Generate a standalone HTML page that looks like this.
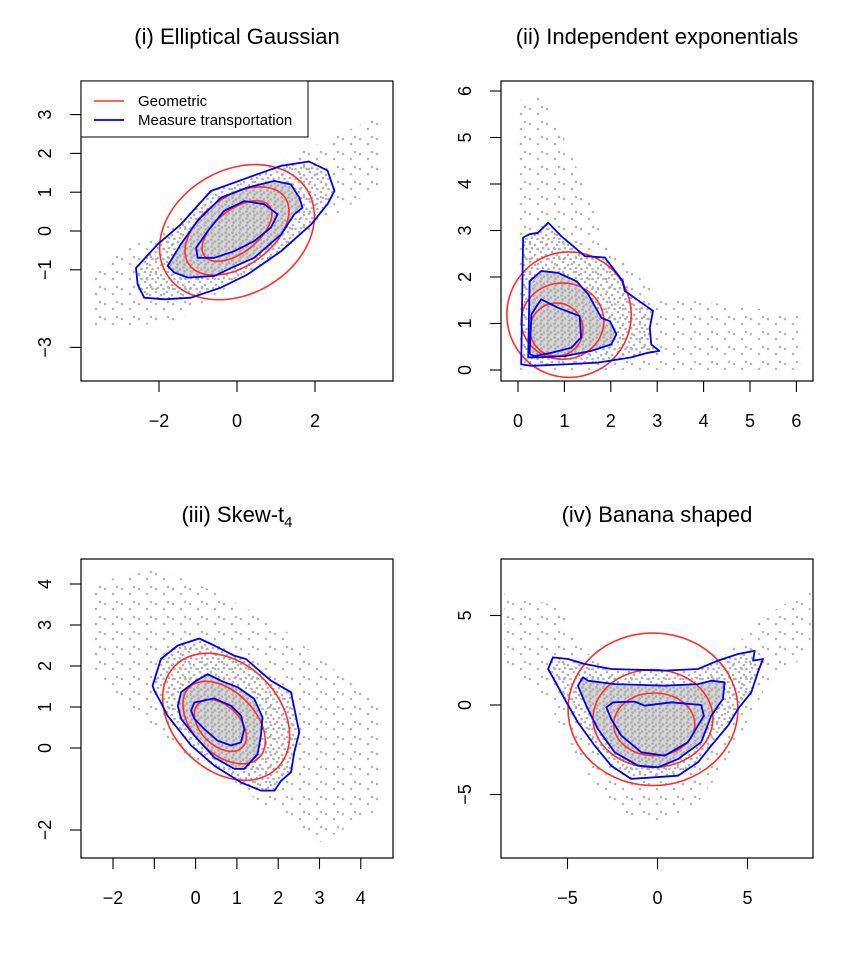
<!DOCTYPE html>
<html><head><meta charset="utf-8"><style>
body{margin:0;background:#fff}
svg{display:block;font-family:"Liberation Sans",sans-serif}
</style></head><body>
<svg id="chart" width="864" height="966" viewBox="0 0 864 966">
<defs>
<pattern id="sparse" width="17" height="15" patternUnits="userSpaceOnUse"><circle cx="3" cy="4" r="1.3" fill="#b5b5b5"/><circle cx="11" cy="9" r="1.3" fill="#b5b5b5"/><circle cx="15" cy="2" r="1.3" fill="#b5b5b5"/></pattern>
<pattern id="medium" width="11" height="10" patternUnits="userSpaceOnUse"><circle cx="2" cy="2" r="1.3" fill="#b0b0b0"/><circle cx="7" cy="5" r="1.3" fill="#b0b0b0"/><circle cx="4" cy="8" r="1.3" fill="#b0b0b0"/><circle cx="9.5" cy="9" r="1.3" fill="#b0b0b0"/></pattern>
<pattern id="dense" width="7" height="7" patternUnits="userSpaceOnUse"><rect width="7" height="7" fill="#d6d6d6"/><circle cx="1.5" cy="1.5" r="1.3" fill="#aaa"/><circle cx="5" cy="3.5" r="1.3" fill="#aaa"/><circle cx="2.5" cy="5.5" r="1.3" fill="#aaa"/></pattern>
</defs>
</svg>
<script>
// ---- data (data units) ----
// panel i
const p1Cloud = [[-3.7,-2.6],[-1.5,-2.3],[1,-0.6],[3.7,1.2],[3.7,3],[2,2.2],[0,1.3],[-2,0],[-3.7,-1]];
const p1Red = [[0,-0.03,2.1,1.6,30],[0,0,1.5,0.9,35],[0,0,1.05,0.55,38]];
const p1BlueOuter = [[-2.59,-0.95],[-2.03,-0.34],[-1.44,0.17],[-0.67,1.03],[0.27,1.37],[1.13,1.68],[1.85,1.79],[2.32,1.56],[2.5,1.03],[2.32,0.69],[1.9,0.17],[1.13,-0.52],[0.27,-1.12],[-0.41,-1.46],[-1.18,-1.72],[-1.86,-1.76],[-2.38,-1.72],[-2.55,-1.37]];
const p1BlueMid = [[-1.78,-0.9],[-1.44,-0.34],[-1.01,0.26],[-0.41,0.86],[0.27,1.12],[0.96,1.29],[1.38,1.2],[1.6,0.86],[1.68,0.6],[1.47,0.43],[1.13,-0.09],[0.44,-0.69],[-0.15,-0.95],[-0.58,-1.16],[-1.26,-1.2],[-1.61,-1.07]];
const p1BlueIn = [[-1.01,-0.69],[-1.05,-0.43],[-0.75,0],[-0.33,0.52],[0.19,0.77],[0.7,0.69],[1.04,0.43],[0.87,0.09],[0.44,-0.26],[-0.07,-0.52],[-0.58,-0.69]];
// panel ii
const p2Cloud = [[0,0],[0,5.8],[0.6,5.9],[1.2,4.5],[2,2.6],[3,1.6],[6.1,1.2],[6.1,0],[3.2,0]];
const p2Red = [[1.1,1.19,1.34,1.35,0],[0.96,1.05,0.89,0.82,0],[0.83,0.87,0.57,0.57,0]];
const p2BlueOuter = [[0.07,0.12],[0.11,2.85],[0.25,2.92],[0.43,2.95],[0.65,3.17],[0.93,2.88],[1.44,2.45],[1.87,2.42],[2.26,1.91],[2.3,1.7],[2.91,1.27],[2.84,0.91],[2.87,0.55],[3.05,0.41],[2.8,0.37],[2.44,0.27],[1.72,0.16],[1.01,0.12],[0.29,0.09]];
const p2BlueMid = [[0.22,0.27],[0.25,1.91],[0.5,2.13],[0.86,2.09],[1.26,1.91],[1.51,1.63],[1.8,1.12],[1.98,1.05],[2.12,0.77],[2.01,0.55],[1.58,0.41],[1.01,0.3],[0.43,0.27]];
const p2BlueIn = [[0.25,0.34],[0.29,1.2],[0.5,1.52],[0.86,1.34],[1.33,1.16],[1.36,0.7],[1.15,0.48],[0.72,0.37],[0.36,0.3]];
// panel iii
const p3Cloud = [[-2.5,4],[-1,4.4],[0.5,3.8],[2,3],[4.5,1],[4.5,-1.5],[3,-2.3],[2,-1.6],[0.5,-0.6],[-1,0.3],[-2.5,2]];
const p3Red = [[0.74,0.76,1.75,1.3,-45],[0.69,0.62,1.2,0.75,-45],[0.6,0.55,0.75,0.48,-45]];
const p3BlueOuter = [[-1.04,1.52],[-0.84,2.17],[-0.43,2.5],[0.09,2.67],[0.45,2.5],[0.94,2.25],[1.22,2.17],[1.58,1.85],[1.83,1.64],[2.31,1.36],[2.51,0.38],[2.39,-0.1],[2.31,-0.59],[2.07,-0.8],[1.91,-1.04],[1.58,-1.04],[1.1,-0.84],[0.45,-0.43],[-0.11,0.06],[-0.68,0.79],[-0.84,1.11],[-1,1.4]];
const p3BlueMid = [[-0.43,1.03],[-0.35,1.36],[0.01,1.64],[0.29,1.8],[0.62,1.64],[1.02,1.48],[1.42,1.2],[1.62,0.75],[1.58,0.3],[1.5,-0.15],[1.18,-0.51],[0.94,-0.51],[0.45,-0.23],[-0.03,0.3],[-0.35,0.71]];
const p3BlueIn = [[-0.11,0.91],[-0.03,1.11],[0.45,1.21],[0.86,1.03],[1.1,0.79],[1.18,0.46],[1.1,0.14],[0.86,0.06],[0.53,0.18],[0.21,0.46],[-0.03,0.71]];
// panel iv
const p4Cloud = [[-8.5,6.3],[-5.5,5.5],[-4,3],[-2,1.5],[2,1.5],[4,3],[6,5],[8.5,6.5],[8.5,3],[6,1],[4,-3],[2,-5.8],[0,-6.5],[-2,-6],[-4,-3.8],[-6,0],[-8.5,2.5]];
const p4Red = [[-0.25,-0.24,4.72,4.26,0],[-0.25,-0.75,3.33,2.73,0],[-0.18,-1.08,2.25,1.75,0]];
const p4BlueOuter = [[-6.08,2.01],[-5.81,2.66],[-4.97,2.57],[-4.04,2.29],[-2.57,2.01],[0.4,1.92],[2.25,2.01],[3.36,2.48],[4.47,2.85],[5.4,3.03],[5.31,2.48],[5.86,2.57],[5.58,1.83],[5.21,0.71],[4.47,-0.22],[3.92,-1.15],[2.99,-2.27],[2.25,-3.2],[1.14,-3.95],[-0.16,-4.04],[-1.46,-4.13],[-2.57,-3.39],[-3.49,-2.27],[-4.42,-0.97],[-5.16,0.34],[-5.71,1.36]];
const p4BlueMid = [[-4.42,1.08],[-4.14,1.55],[-3.86,1.36],[-2.38,1.17],[0.4,1.08],[2.25,1.17],[2.99,1.36],[3.73,1.27],[3.64,0.34],[2.99,-0.6],[2.43,-2.08],[1.14,-3.02],[0.03,-3.48],[-1.08,-3.39],[-2.38,-2.64],[-3.31,-1.34],[-3.96,-0.04]];
const p4BlueIn = [[-2.84,-0.13],[-2.47,0.15],[-1.27,0.19],[-0.71,-0.04],[0.77,0.15],[2.43,0],[2.58,-0.6],[2.25,-1.15],[1.69,-2.08],[0.4,-2.83],[-0.9,-2.64],[-2.01,-1.71],[-2.57,-0.78]];
// tick labels
const p1XTicks = [-2,0,2];  const p1YTicks = [3,2,1,0,-1,-3];
const p2XTicks = [0,1,2,3,4,5,6]; const p2YTicks = [0,1,2,3,4,5,6];
const p3XTicks = [-2,-1,0,1,2,3,4]; const p3XLabels = ["−2","","0","1","2","3","4"]; const p3YTicks = [4,3,2,1,0,-2];
const p4XTicks = [-5,0,5]; const p4YTicks = [5,0,-5];

const NS="http://www.w3.org/2000/svg";
const svg=document.getElementById('chart');
function mk(tag,attrs,parent){const e=document.createElementNS(NS,tag);for(const k in attrs)e.setAttribute(k,attrs[k]);(parent||svg).appendChild(e);return e;}
const fmt=v=>v<0?"−"+(-v):String(v);

const panels=[
 {id:'i',title:'(i) Elliptical Gaussian',box:[81,81,393,381],x0:237,xs:39,y0:231,ys:38.8,cloud:p1Cloud,red:p1Red,bo:p1BlueOuter,bm:p1BlueMid,bi:p1BlueIn,xt:p1XTicks,yt:p1YTicks},
 {id:'ii',title:'(ii) Independent exponentials',box:[501,81,813,381],x0:518,xs:46.4,y0:370,ys:46.5,cloud:p2Cloud,red:p2Red,bo:p2BlueOuter,bm:p2BlueMid,bi:p2BlueIn,xt:p2XTicks,yt:p2YTicks},
 {id:'iii',title:'(iii) Skew-t',box:[81,559,393,858],x0:195.6,xs:41.3,y0:748,ys:41,cloud:p3Cloud,red:p3Red,bo:p3BlueOuter,bm:p3BlueMid,bi:p3BlueIn,xt:p3XTicks,xl:p3XLabels,yt:p3YTicks},
 {id:'iv',title:'(iv) Banana shaped',box:[501,559,813,858],x0:657.5,xs:18,y0:705,ys:17.9,cloud:p4Cloud,red:p4Red,bo:p4BlueOuter,bm:p4BlueMid,bi:p4BlueIn,xt:p4XTicks,yt:p4YTicks}
];

panels.forEach((p,pi)=>{
 const [L,T,R,B]=p.box;
 const sx=v=>p.x0+v*p.xs, sy=v=>p.y0-v*p.ys;
 const g=mk('g',{});
 
 
 const cp=mk('clipPath',{id:'clip'+pi},g); mk('rect',{x:L,y:T,width:R-L,height:B-T},cp);
 const plot=mk('g',{'clip-path':'url(#clip'+pi+')'},g);
 const pts=a=>a.map(d=>sx(d[0]).toFixed(1)+','+sy(d[1]).toFixed(1)).join(' ');
 const cloud=mk('polygon',{points:pts(p.cloud),fill:'url(#sparse)'},plot);
 
 
 const c2=mk('polygon',{points:pts(p.bo),fill:'url(#medium)'},plot);
 
 
 const c3=mk('polygon',{points:pts(p.bm),fill:'url(#dense)'},plot);
 
 
 p.red.forEach((e,k)=>{
  const el=mk('ellipse',{cx:sx(e[0]),cy:sy(e[1]),rx:e[2]*p.xs,ry:e[3]*p.ys,transform:`rotate(${-e[4]} ${sx(e[0])} ${sy(e[1])})`,fill:'none',stroke:'#ff3030','stroke-width':1.6},plot);
  
  
 });
 [p.bo,p.bm,p.bi].forEach((a,k)=>{
  const el=mk('polygon',{points:pts(a),fill:'none',stroke:'#0000ee','stroke-width':1.8,'stroke-linejoin':'round'},plot);
  
  
 });
 const box=mk('rect',{x:L,y:T,width:R-L,height:B-T,fill:'none',stroke:'#000','stroke-width':1.2},g);
 
 
 // x axis
 p.xt.forEach((v,k)=>{
  const x=sx(v);
  mk('line',{x1:x,y1:B,x2:x,y2:B+11,stroke:'#000','stroke-width':1.1},g);
  const t=mk('text',{x:x,y:B+46,'text-anchor':'middle','font-size':18},g);
  t.textContent=p.xl?p.xl[k]:fmt(v);
  
  
 });
 p.yt.forEach(v=>{
  const y=sy(v);
  mk('line',{x1:L-11,y1:y,x2:L,y2:y,stroke:'#000','stroke-width':1.1},g);
  const tx=L-30;
  const t=mk('text',{x:tx,y:y,'text-anchor':'middle','font-size':18,transform:`rotate(-90 ${tx} ${y})`},g);
  t.textContent=fmt(v);
  
  
 });
 const tt=mk('text',{x:(L+R)/2,y:T-37,'text-anchor':'middle','font-size':22},g);
 tt.textContent=p.title;
 if(p.id==='iii'){const s=mk('tspan',{'font-size':15,dy:5},tt);s.textContent='4';}
 
 
});

// legend
const lg=mk('g',{});


mk('rect',{x:81,y:81,width:227,height:56,fill:'#fff',stroke:'#000','stroke-width':1},lg);
mk('line',{x1:94,y1:101,x2:124,y2:101,stroke:'#ff3030','stroke-width':1.6},lg);
mk('line',{x1:94,y1:120,x2:124,y2:120,stroke:'#0000ee','stroke-width':1.8},lg);
const l1=mk('text',{x:138,y:106,'font-size':15},lg); l1.textContent='Geometric';


const l2=mk('text',{x:138,y:125,'font-size':15},lg); l2.textContent='Measure transportation';


</script>
</body></html>
